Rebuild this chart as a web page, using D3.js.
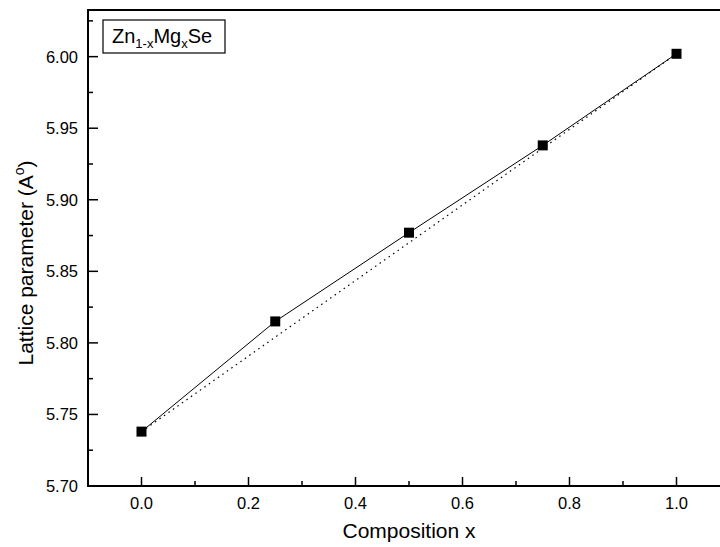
<!DOCTYPE html>
<html lang="en">
<head>
<meta charset="UTF-8">
<title>Lattice parameter vs composition</title>
<script src="https://d3js.org/d3.v7.min.js"></script>
<style>
    body { margin: 0; background: #fff; }
    #chart { width: 720px; height: 547px; overflow: hidden; }
    text { font-family: "Liberation Sans", Arial, sans-serif; fill: #000; }
</style>
</head>
<body>
<div id="chart"></div>
<script>
    // data
    const composition = [0, 0.25, 0.5, 0.75, 1.0];
    const lattice = [5.738, 5.815, 5.877, 5.938, 6.002];
    // Vegard's law line between the two end members
    const vegardX = [0, 1.0];
    const vegardY = [5.738, 6.002];

    const xTicks = [0.0, 0.2, 0.4, 0.6, 0.8, 1.0];
    const yTicks = [5.70, 5.75, 5.80, 5.85, 5.90, 5.95, 6.00];

    const width = 720, height = 547;
    const margin = { left: 88, top: 10, bottom: 61 };

    const svg = d3.select("#chart").append("svg")
        .attr("width", width)
        .attr("height", height);

    const x = d3.scaleLinear().domain([-0.1, 1.1]).range([margin.left, 730]);
    const y = d3.scaleLinear().domain([5.70, 6.0326]).range([height - margin.bottom, margin.top]);

    const x0 = x.range()[0], x1 = x.range()[1];
    const y0 = y.range()[0], y1 = y.range()[1];

    // frame
    svg.append("rect")
        .attr("x", x0).attr("y", y1)
        .attr("width", x1 - x0).attr("height", y0 - y1)
        .attr("fill", "none").attr("stroke", "#000").attr("stroke-width", 2);

    // ticks (inward), majors + minors
    const xMinor = d3.range(-0.1, 1.1001, 0.1).map(v => +v.toFixed(2));
    const yMinor = d3.range(5.70, 6.03, 0.025).map(v => +v.toFixed(3));

    const tk = svg.append("g").attr("stroke", "#000").attr("stroke-width", 1.5);
    xMinor.forEach(v => {
        const major = xTicks.some(t => Math.abs(t - v) < 1e-6);
        tk.append("line").attr("x1", x(v)).attr("x2", x(v))
            .attr("y1", y0).attr("y2", y0 - (major ? 9 : 5));
    });
    yMinor.forEach(v => {
        const major = yTicks.some(t => Math.abs(t - v) < 1e-6);
        tk.append("line").attr("y1", y(v)).attr("y2", y(v))
            .attr("x1", x0).attr("x2", x0 + (major ? 10 : 5));
    });

    svg.append("g").selectAll("text").data(xTicks).join("text")
        .attr("x", d => x(d)).attr("y", y0 + 23)
        .attr("text-anchor", "middle").attr("font-size", 16.5)
        .text(d => d.toFixed(1));

    svg.append("g").selectAll("text").data(yTicks).join("text")
        .attr("x", x0 - 10).attr("y", d => y(d) + 6)
        .attr("text-anchor", "end").attr("font-size", 16.5)
        .text(d => d.toFixed(2));

    // axis titles
    svg.append("text")
        .attr("x", (x0 + x1) / 2).attr("y", 538)
        .attr("text-anchor", "middle").attr("font-size", 21)
        .text("Composition x");

    const yt = svg.append("text")
        .attr("transform", "translate(33,263) rotate(-90)")
        .attr("text-anchor", "middle").attr("font-size", 21);
    yt.append("tspan").text("Lattice parameter (A");
    yt.append("tspan").attr("dy", -9).attr("font-size", 14).text("o");
    yt.append("tspan").attr("dy", 9).text(")");

    // dotted Vegard line
    const line = d3.line().x(d => x(d[0])).y(d => y(d[1]));
    svg.append("path")
        .datum(d3.zip(vegardX, vegardY))
        .attr("d", line)
        .attr("fill", "none").attr("stroke", "#000")
        .attr("stroke-width", 1.2).attr("stroke-dasharray", "1.5,4");

    // data line + markers
    svg.append("path")
        .datum(d3.zip(composition, lattice))
        .attr("d", line)
        .attr("fill", "none").attr("stroke", "#000").attr("stroke-width", 1);

    svg.append("g").selectAll("rect").data(d3.zip(composition, lattice)).join("rect")
        .attr("x", d => x(d[0]) - 5).attr("y", d => y(d[1]) - 5)
        .attr("width", 10).attr("height", 10).attr("fill", "#000");

    // legend box
    svg.append("rect")
        .attr("x", 103).attr("y", 20).attr("width", 122).attr("height", 33)
        .attr("fill", "#fff").attr("stroke", "#000").attr("stroke-width", 1.2);
    const lg = svg.append("text").attr("x", 112).attr("y", 43).attr("font-size", 20);
    lg.append("tspan").text("Zn");
    lg.append("tspan").attr("dy", 5).attr("font-size", 13).text("1-x");
    lg.append("tspan").attr("dy", -5).text("Mg");
    lg.append("tspan").attr("dy", 5).attr("font-size", 13).text("x");
    lg.append("tspan").attr("dy", -5).text("Se");
</script>
</body>
</html>
